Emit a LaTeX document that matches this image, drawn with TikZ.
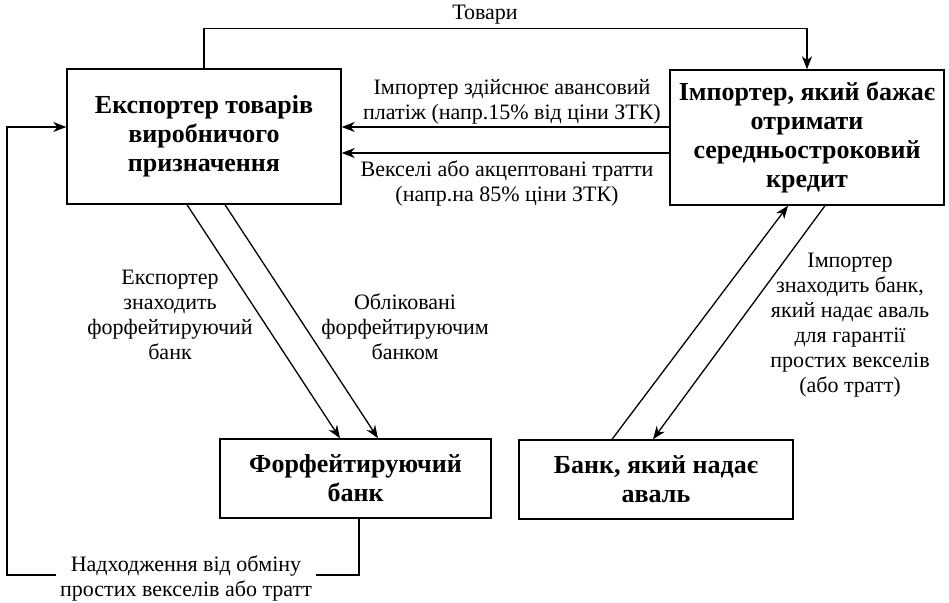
\documentclass[tikz,border=0pt]{standalone}
\usepackage{fontspec}
\setmainfont{Liberation Serif}
\usetikzlibrary{arrows.meta}
\begin{document}
\begin{tikzpicture}[x=1pt,y=-1pt,
  line width=1.3pt,
  tip/.style={-{Stealth[length=13pt,width=10pt,inset=4pt]}},
  party/.style={draw,line width=1.4pt,align=center,inner sep=2pt,
    font=\fontsize{26}{29}\selectfont\bfseries},
  lbl/.style={align=center,inner sep=1pt,font=\fontsize{22}{25}\selectfont}]
\useasboundingbox (0,0) rectangle (949,602);

% participants
\node[party,minimum width=274pt,minimum height=135pt] (exp) at (204,136.5)
  {Експортер товарів\\виробничого\\призначення};
\node[party,minimum width=274pt,minimum height=135pt] (imp) at (807,137.5)
  {Імпортер, який бажає\\отримати\\середньостроковий\\кредит};
\node[party,minimum width=271pt,minimum height=79pt] (ff) at (355.5,478.5)
  {Форфейтируючий\\банк};
\node[party,minimum width=274pt,minimum height=79pt] (av) at (656,479.5)
  {Банк, який надає\\аваль};

% goods shipment over the top
\draw[tip] (exp.north) -- ++(0,-40) coordinate (gl) -| (imp.north);
\node[lbl] (tov) at (485,15) {Товари};

% payments from importer to exporter
\draw[tip] (imp.west |- 0,127) -- (exp.east |- 0,127);
\draw[tip] (imp.west |- 0,153) -- (exp.east |- 0,153);
\node[lbl] (adv) at (512,102) {Імпортер здійснює авансовий\\платіж (напр.15\% від ціни ЗТК)};
\node[lbl] (bills) at (507,183.5) {Векселі або акцептовані тратти\\(напр.на 85\% ціни ЗТК)};

% exporter and forfaiting bank
\draw[tip] (187,0 |- exp.south) -- (340,0 |- ff.north);
\draw[tip] (225,0 |- exp.south) -- (378,0 |- ff.north);
\node[lbl] (find) at (170,314.5) {Експортер\\знаходить\\форфейтируючий\\банк};
\node[lbl] (disc) at (405,327) {Обліковані\\форфейтируючим\\банком};

% importer and avalising bank
\draw[tip] (612,0 |- av.north) -- (788,0 |- imp.south);
\draw[tip] (825,0 |- imp.south) -- (653,0 |- av.north);
\node[lbl] (aval) at (850,325) {Імпортер\\знаходить банк,\\який надає аваль\\для гарантії\\простих векселів\\(або тратт)};

% proceeds returned to the exporter
\coordinate (r1) at (359,575);
\coordinate (r2) at (7,575);
\coordinate (r3) at (7,127);
\draw[tip] (359,0 |- ff.south) -- (r1) -- (r2) -- (r3) -- (exp.west |- r3);
\node[lbl,fill=white,inner xsep=4pt] (proc) at (186,578)
  {Надходження від обміну\\простих векселів або тратт};
\end{tikzpicture}
\end{document}
